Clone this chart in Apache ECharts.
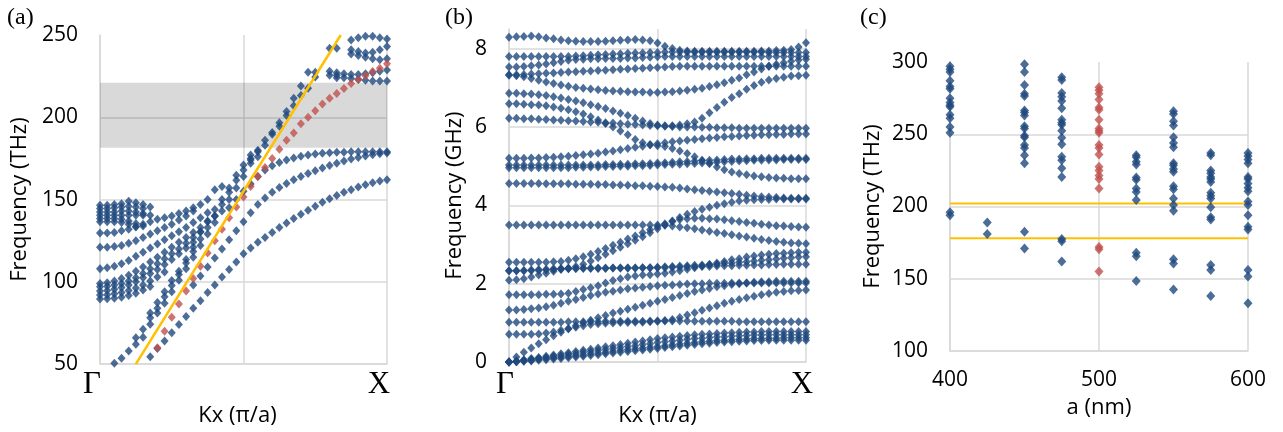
<!DOCTYPE html>
<html>
<head>
<meta charset="utf-8">
<script src="https://cdn.jsdelivr.net/npm/echarts@6/dist/echarts.min.js"></script>
<style>
html, body { margin: 0; padding: 0; background: #fff; }
#container { width: 1283px; height: 432px; }
</style>
</head>
<body>
<div id="container"></div>
<script>
// wave vector samples, Gamma -> X (pi/a)
var kx = [0,0.025,0.05,0.075,0.1,0.125,0.15,0.175,0.2,0.225,0.25,0.275,0.3,0.325,0.35,0.375,0.4,0.425,0.45,0.475,
	0.5,0.525,0.55,0.575,0.6,0.625,0.65,0.675,0.7,0.725,0.75,0.775,0.8,0.825,0.85,0.875,0.9,0.925,0.95,0.975,1];

// ---- (a) bands, THz. s = index of first visible kx sample
var aRed = {s: 8, f: [60,70,78.5,86.5,94.5,102,109.5,117.5,125,132,139,145.5,151.5,158,164,169.5,175,180.5,186,190.5,
	196,200,204,208,211.5,214.5,217.5,220.5,223,225.3,227.8,229.8,232.5]};
var aL1 = {s: 7, f: [54.5,59.5,64,69,74,79,84,88.5,93.5,98,103,107.5,112,117,120.5,124,127,130,133,135.8,138.5,141,143.5,146,
	148.3,150.5,152.5,154.4,156,157.6,159,160.2,161.2,162]};
var aL2 = {s: 13, f: [98,103.5,109,114.5,120,125.5,131,136.5,142,147,151,154.5,157.3,159.8,162,164,165.8,167.5,169.2,170.7,
	172.1,173.4,174.6,175.6,176.5,177.3,177.9,178.3]};
var aL3 = {s: 18, f: [145,150,155,159.5,164,168,170.5,172.5,174,175.3,176.3,177,177.7,178.2,178.5,178.7,178.8,179,179,179,179,179,179]};
var aLL1 = {s: 2, f: [50.5,53.5,58,62,66.3,74.2,81.1,87,94,101,108,115,122,129,136,143,150,157,164]};
var aLL2 = {s: 5, f: [66,71.2,78.1,84,90.9,97.8,104.5,111.5,118.5,126,133,140,147,154.5,161.8,168,174]};
var aLL3 = {s: 7, f: [81,87.5,94,100.8,106.5,113.5,121,130.3,137,144,150,157,164.7,171,177,180]};
var aU1 = {s: 21, f: [172,176,183,189.7,194.6,201.1,207,213.3,217.6,224.4]};
var aU2 = {s: 21, f: [175,179,186,190.8,196.6,203.5,211.5,219,227.3,227.3]};
var aD = {s: 32, f: [228,227,226.5,226,226,226.5,227,228,228.7]};
var aD2 = {s: 32, f: [225.5,225.5]};
var aE = {s: 33, f: [224,224,223.5,223,222.5,222,222,222]};
var aB1 = {s: 32, f: [242,242,null,241,240,239,239.5,241,243]};
var aB2 = {s: 35, f: [238.5,237.5,236.5,235.5,235,235.5]};
var aTop = {s: 35, f: [247,248.4,249.3,249.3,248.4,247.6]};
var aT1 = {s: 0, f: [146.5,146.5,147,147.5,149,148,147,145.5]};
var aT2 = {s: 0, f: [144.5,144.5,145,145.5,146,145.5,144.5]};
var aT3 = {s: 0, f: [142.5,142.5,142.5,143,143,142.5,141.5]};
var aT4 = {s: 0, f: [140.5,140.5,140.5,140.5,140.5,140.5,140.5,140.5]};
var aT5 = {s: 0, f: [138.5,138.5,138.5,138,137,135.5,134]};
var aT6 = {s: 0, f: [136.5,136.5,136.5,136,135,133.5]};
var aM1 = {s: 0, f: [129.7,129.7,130,131,132,133.5,135,136.5,138,139,140,141.5,143,145,147,150,156,158]};
var aM2 = {s: 0, f: [121,121,121.5,122,123.5,125,127,129,131,133,135,137.5,140,143]};
var aM3 = {s: 0, f: [108,108.5,109.5,111,113,115.5,118,120.5,123,125.5,128,130.5,133,136,139,142]};
var aM4 = {s: 0, f: [99,99.5,100.5,102,104,106.5,109,112,115,118,121,124,127,130,133,136.5,140]};
var aM5 = {s: 0, f: [97,97.3,98,99,100.5,102.5,105,108,111,114,117,120,123.5,127,130.5]};
var aM6 = {s: 0, f: [94.5,94.8,95.5,96.5,98,100,102.5,105,107.5,110.5,113.5,117,120.5,124]};
var aM7 = {s: 0, f: [92,92.2,92.7,93.5,94.7,96.2,98,100.5,103,106]};
var aM8 = {s: 0, f: [89.5,89.7,90,90.7,91.7,93,95,97.2]};
var aBlue = [aL1, aL2, aL3, aLL1, aLL2, aLL3, aU1, aU2, aD, aD2, aE, aB1, aB2, aTop,
	aT1, aT2, aT3, aT4, aT5, aT6, aM1, aM2, aM3, aM4, aM5, aM6, aM7, aM8];
var aLightLine = [[0.1247, 50], [0.839, 250]];
var aGapBand = [181.5, 221];

// ---- (b) bands, GHz, one value per kx sample
var b1 = [8.29,8.30,8.31,8.32,8.30,8.27,8.25,8.22,8.20,8.19,8.18,8.18,8.18,8.19,8.20,8.21,8.22,8.23,8.22,8.20,
	8.14,8.06,8.00,7.96,7.94,7.93,7.93,7.93,7.93,7.93,7.93,7.93,7.93,7.93,7.94,7.94,7.95,7.96,7.98,8.04,8.15];
var b2 = [7.80,7.80,7.80,7.80,7.80,7.80,7.80,7.80,7.80,7.81,7.82,7.83,7.84,7.85,7.86,7.87,7.88,7.89,7.89,7.90,
	7.90,7.91,7.91,7.91,7.91,7.91,7.91,7.91,7.91,7.91,7.91,7.91,7.91,7.91,7.91,7.90,7.90,7.90,7.90,7.90,7.90];
var b3 = [7.53,7.53,7.54,7.56,7.58,7.61,7.64,7.67,7.70,7.72,7.73,7.74,7.74,7.75,7.75,7.75,7.76,7.76,7.77,7.78,
	7.79,7.80,7.80,7.80,7.80,7.80,7.80,7.80,7.80,7.80,7.80,7.80,7.80,7.80,7.80,7.80,7.80,7.80,7.80,7.80,7.80];
var b4 = [7.33,7.33,7.34,7.35,7.36,7.37,7.38,7.39,7.40,7.41,7.42,7.43,7.44,7.45,7.46,7.47,7.48,7.49,7.50,7.51,
	7.52,7.53,7.54,7.55,7.55,7.55,7.55,7.55,7.55,7.55,7.55,7.55,7.55,7.55,7.55,7.55,7.55,7.55,7.55,7.55,7.55];
var b5 = [7.32,7.31,7.28,7.24,7.19,7.15,7.11,7.07,7.04,7.01,6.99,6.97,6.95,6.93,6.92,6.91,6.90,6.89,6.89,6.88,
	6.88,6.89,6.90,6.92,6.94,6.96,6.99,7.03,7.08,7.13,7.19,7.25,7.33,7.40,7.48,7.55,7.60,7.64,7.68,7.71,7.73];
var b6 = [6.86,6.86,6.85,6.84,6.82,6.80,6.77,6.74,6.70,6.66,6.62,6.57,6.52,6.47,6.41,6.35,6.29,6.22,6.15,6.09,
	6.05,6.03,6.03,6.05,6.08,6.13,6.22,6.36,6.50,6.63,6.75,6.85,6.96,7.06,7.14,7.20,7.24,7.27,7.30,7.31,7.32];
var b7 = [6.59,6.59,6.58,6.57,6.56,6.54,6.51,6.48,6.44,6.39,6.33,6.26,6.18,6.09,6.00,5.90,5.80,5.68,5.60,5.55,
	5.52,5.50,5.45,5.39,5.32,5.24,5.15,5.06,4.98,4.91,4.85,4.81,4.78,4.75,4.73,4.71,4.70,4.69,4.68,4.68,4.68];
var b8 = [6.22,6.22,6.21,6.21,6.20,6.19,6.18,6.17,6.16,6.15,6.14,6.13,6.12,6.11,6.10,6.08,6.07,6.06,6.05,6.04,
	6.03,6.02,6.01,6.00,6.00,6.00,5.99,5.99,5.98,5.98,5.98,5.97,5.97,5.97,5.97,5.97,5.97,5.97,5.97,5.97,5.97];
var b9 = [5.20,5.20,5.20,5.21,5.21,5.22,5.23,5.24,5.25,5.27,5.29,5.31,5.33,5.36,5.39,5.42,5.45,5.48,5.51,5.54,
	5.57,5.60,5.62,5.64,5.66,5.68,5.70,5.72,5.73,5.75,5.76,5.77,5.78,5.79,5.80,5.80,5.81,5.81,5.82,5.82,5.82];
var b10 = [5.03,5.03,5.03,5.03,5.03,5.03,5.03,5.03,5.03,5.03,5.03,5.03,5.03,5.04,5.04,5.05,5.05,5.06,5.06,5.07,
	5.08,5.09,5.10,5.11,5.12,5.13,5.14,5.15,5.16,5.17,5.18,5.18,5.19,5.19,5.20,5.20,5.20,5.20,5.20,5.20,5.20];
var b11 = [4.96,4.96,4.96,4.96,4.96,4.96,4.96,4.96,4.96,4.97,4.97,4.98,4.98,4.99,4.99,5.00,5.00,5.01,5.01,5.02,
	5.03,5.04,5.05,5.05,5.06,5.07,5.08,5.09,5.10,5.11,5.12,5.13,5.14,5.15,5.15,5.16,5.16,5.17,5.17,5.17,5.17];
var b12 = [4.56,4.56,4.56,4.56,4.56,4.55,4.55,4.55,4.55,4.54,4.54,4.54,4.53,4.53,4.52,4.52,4.51,4.50,4.50,4.49,
	4.48,4.47,4.46,4.44,4.42,4.40,4.38,4.36,4.34,4.32,4.30,4.28,4.26,4.24,4.22,4.21,4.20,4.19,4.18,4.18,4.18];
var b13 = [3.50,3.50,3.50,3.50,3.50,3.50,3.50,3.50,3.50,3.50,3.50,3.50,3.50,3.50,3.50,3.50,3.50,3.50,3.50,3.50,
	3.50,3.49,3.47,3.45,3.43,3.40,3.37,3.34,3.31,3.28,3.25,3.22,3.19,3.16,3.13,3.10,3.08,3.06,3.04,3.03,3.02];
var b14 = [2.55,2.55,2.55,2.55,2.55,2.55,2.56,2.57,2.60,2.64,2.69,2.75,2.82,2.90,2.98,3.06,3.14,3.22,3.30,3.38,
	3.46,3.53,3.59,3.64,3.66,3.67,3.67,3.66,3.65,3.63,3.61,3.59,3.56,3.54,3.52,3.50,3.48,3.47,3.46,3.45,3.44];
var b15 = [2.33,2.33,2.33,2.34,2.34,2.35,2.36,2.38,2.40,2.44,2.50,2.58,2.66,2.75,2.84,2.93,3.02,3.11,3.20,3.30,
	3.40,3.50,3.60,3.69,3.77,3.84,3.90,3.95,4.00,4.04,4.08,4.11,4.13,4.14,4.15,4.15,4.16,4.16,4.16,4.16,4.16];
var b16 = [2.33,2.33,2.34,2.35,2.36,2.37,2.38,2.39,2.39,2.39,2.39,2.39,2.39,2.39,2.40,2.40,2.40,2.40,2.41,2.41,
	2.42,2.43,2.44,2.45,2.46,2.47,2.48,2.49,2.50,2.52,2.53,2.55,2.56,2.58,2.60,2.61,2.63,2.65,2.66,2.68,2.69];
var b17 = [2.09,2.10,2.13,2.17,2.22,2.27,2.32,2.36,2.38,2.39,2.40,2.40,2.40,2.40,2.40,2.40,2.40,2.40,2.41,2.41,
	2.41,2.41,2.42,2.42,2.43,2.43,2.44,2.44,2.45,2.46,2.46,2.47,2.47,2.48,2.48,2.49,2.49,2.50,2.50,2.50,2.50];
var b18 = [1.72,1.72,1.72,1.72,1.72,1.73,1.73,1.74,1.76,1.80,1.85,1.90,1.95,2.02,2.08,2.13,2.17,2.20,2.22,2.23,
	2.25,2.27,2.30,2.33,2.37,2.41,2.45,2.49,2.53,2.57,2.61,2.64,2.68,2.71,2.73,2.75,2.77,2.78,2.79,2.80,2.80];
var b19 = [1.33,1.33,1.34,1.36,1.38,1.41,1.45,1.50,1.55,1.60,1.65,1.70,1.74,1.78,1.81,1.84,1.87,1.89,1.91,1.93,
	1.95,1.96,1.97,1.98,1.99,2.00,2.00,2.01,2.01,2.01,2.02,2.02,2.02,2.02,2.02,2.02,2.02,2.02,2.02,2.02,2.02];
var b20 = [1.02,1.02,1.02,1.02,1.02,1.02,1.02,1.02,1.03,1.03,1.03,1.03,1.03,1.04,1.04,1.04,1.04,1.04,1.04,1.05,
	1.05,1.05,1.05,1.05,1.05,1.04,1.04,1.04,1.04,1.04,1.04,1.03,1.03,1.03,1.03,1.03,1.03,1.03,1.03,1.03,1.03];
var b21 = [0.71,0.71,0.71,0.71,0.72,0.74,0.77,0.81,0.85,0.89,0.93,0.96,0.98,0.99,1.00,1.01,1.01,1.02,1.02,1.03,
	1.04,1.06,1.09,1.14,1.20,1.26,1.32,1.38,1.44,1.50,1.55,1.60,1.64,1.68,1.72,1.75,1.78,1.80,1.82,1.83,1.84];
var bSteep = [0.00,0.13,0.25,0.36,0.47,0.57,0.67,0.76,0.85,0.93,1.00,1.07,1.13,1.19,1.25,1.30,1.35,1.40,1.45,1.50,
	1.55,1.60,1.65,1.70,1.75,1.80,1.84,1.88,1.92,1.95,1.98,2.00,2.02,2.04,2.05,2.05,2.06,2.06,2.06,2.06,2.06];
var bA1 = [0.00,0.03,0.06,0.09,0.12,0.15,0.18,0.21,0.24,0.27,0.30,0.33,0.36,0.39,0.42,0.45,0.48,0.51,0.54,0.57,
	0.60,0.62,0.64,0.66,0.68,0.70,0.71,0.72,0.73,0.74,0.75,0.76,0.77,0.77,0.78,0.78,0.78,0.78,0.78,0.78,0.78];
var bA2 = [0.00,0.02,0.05,0.07,0.10,0.12,0.15,0.17,0.20,0.22,0.25,0.27,0.30,0.32,0.35,0.37,0.40,0.42,0.45,0.47,
	0.50,0.52,0.54,0.56,0.58,0.60,0.61,0.63,0.64,0.65,0.66,0.67,0.68,0.69,0.69,0.70,0.70,0.70,0.70,0.70,0.70];
var bA3 = [0.00,0.01,0.03,0.05,0.07,0.09,0.11,0.13,0.15,0.17,0.19,0.21,0.23,0.25,0.28,0.30,0.32,0.34,0.36,0.38,
	0.40,0.42,0.44,0.46,0.48,0.50,0.52,0.53,0.55,0.56,0.57,0.58,0.59,0.60,0.60,0.61,0.61,0.62,0.62,0.62,0.62];
var bA4 = [0.00,0.01,0.02,0.03,0.05,0.06,0.08,0.09,0.11,0.13,0.15,0.17,0.19,0.21,0.23,0.25,0.27,0.29,0.31,0.33,
	0.35,0.37,0.39,0.41,0.43,0.45,0.47,0.48,0.50,0.51,0.52,0.53,0.54,0.55,0.55,0.56,0.56,0.56,0.56,0.56,0.56];
var bBands = [b1, b2, b3, b4, b5, b6, b7, b8, b9, b10, b11, b12, b13, b14, b15, b16, b17, b18, b19, b20, b21,
	bSteep, bA1, bA2, bA3, bA4];

// ---- (c) modes vs lattice constant, THz
var cLattice = [400, 425, 450, 475, 525, 550, 575, 600];
var cModes = [
	[297,295,293,287,283,281.5,275,272,270,269,263.5,261,255,251,196,194],
	[189,181],
	[298.5,293,284,278,276.5,266.5,265,263,255.5,254,249,248,242.5,240.5,235.5,230,182.5,171],
	[289.5,287.5,278.5,276,273,268,260,258,256.5,252.5,247.5,243,234.5,232,226.5,220.5,177.5,176,162],
	[235.5,234,231,229,220,218.5,212.5,210,204.5,168,165.5,148.5],
	[266,264,259,256,248,244,241,230,228.5,226,224,214,212,205.5,201,197,163.5,160.5,142.5],
	[237,235.5,225,223,220.5,219,217,209.5,207.5,205.5,199.5,192.5,191,159.5,156,138],
	[237,235,232.5,230,220.5,219,216,213,210.5,203.5,201,194,186,184,156,151.5,133]
];
var cRedLattice = 500;
var cRedModes = [282.5,280.5,278,274,268.5,267,260,254,252.5,251,242.5,240.5,236,227.5,225,221.5,219,212.5,172,170.5,155];
var cGapEdges = [178, 202];

// ---- build point lists
function bandPoints(bands) {
	var out = [];
	bands.forEach(function (b) {
		b.f.forEach(function (v, i) {
			if (v != null) out.push([kx[b.s + i], v]);
		});
	});
	return out;
}
var aBluePts = bandPoints(aBlue);
var aRedPts = bandPoints([aRed]);
var bPts = [];
bBands.forEach(function (band) {
	band.forEach(function (v, i) { bPts.push([kx[i], v]); });
});
var cBluePts = [];
cLattice.forEach(function (a, j) {
	cModes[j].forEach(function (v) { cBluePts.push([a, v]); });
});
var cRedPts = cRedModes.map(function (v) { return [cRedLattice, v]; });

var BLUE = '#1F497D', RED = '#C0504D', GOLD = '#FFC000', GRID = '#d9d9d9';
var numFont = 'Open Sans', symFont = 'Liberation Serif';
var DOT = [8, 9], DOT_C = [9, 10];

function valueY(idx, min, max, interval, name, gap) {
	return {
		type: 'value', gridIndex: idx, min: min, max: max, interval: interval,
		axisLine: {show: true, lineStyle: {color: GRID, width: 1.5}},
		axisTick: {show: false},
		splitLine: {show: true, showMaxLine: false, lineStyle: {color: GRID, width: 1.5}},
		axisLabel: {fontFamily: numFont, fontSize: 21, color: '#000', margin: 22, showMaxLabel: max === 8.5 ? false : true},
		name: name, nameLocation: 'middle', nameGap: gap,
		nameTextStyle: {fontFamily: numFont, fontSize: 22, color: '#000'}
	};
}
function kAxis(idx, pad, margin, namePad) {
	return {
		type: 'value', gridIndex: idx, min: 0, max: 1, interval: 0.5,
		axisLine: {show: true, lineStyle: {color: GRID, width: 1.5}},
		axisTick: {show: false},
		splitLine: {show: true, lineStyle: {color: GRID, width: 1.5}},
		axisLabel: {
			fontFamily: symFont, fontSize: 31, color: '#000', margin: margin, padding: [0, pad, 0, 0],
			formatter: function (v) { return v === 0 ? 'Γ' : (v === 1 ? 'X' : ''); }
		},
		name: 'Kx (π/a)', nameLocation: 'middle', nameGap: 24,
		nameTextStyle: {fontFamily: numFont, fontSize: 22, color: '#000', padding: [0, namePad, 0, 0]}
	};
}

var option = {
	backgroundColor: '#fff',
	animation: false,
	title: [
		{text: '(a)', left: 2, top: 1, textStyle: {fontFamily: symFont, fontSize: 24, fontWeight: 'normal', color: '#000'}},
		{text: '(b)', left: 440, top: 1, textStyle: {fontFamily: symFont, fontSize: 24, fontWeight: 'normal', color: '#000'}},
		{text: '(c)', left: 855, top: 1, textStyle: {fontFamily: symFont, fontSize: 24, fontWeight: 'normal', color: '#000'}}
	],
	grid: [
		{left: 100, top: 35, width: 287, height: 338},
		{left: 509, top: 29, width: 297, height: 342},
		{left: 950, top: 62, width: 298, height: 289}
	],
	xAxis: [
		kAxis(0, 16, 5, 12),
		kAxis(1, 8, 7, 0),
		{
			type: 'value', gridIndex: 2, min: 400, max: 600, interval: 100,
			axisLine: {show: true, lineStyle: {color: GRID, width: 1.5}},
			axisTick: {show: false},
			splitLine: {show: true, lineStyle: {color: GRID, width: 1.5}},
			axisLabel: {fontFamily: numFont, fontSize: 21, color: '#000', margin: 19},
			name: 'a (nm)', nameLocation: 'middle', nameGap: 46,
			nameTextStyle: {fontFamily: numFont, fontSize: 22, color: '#000'}
		}
	],
	yAxis: [
		valueY(0, 50, 250, 50, 'Frequency (THz)', 69),
		valueY(1, 0, 8.5, 2, 'Frequency (GHz)', 43),
		valueY(2, 100, 300, 50, 'Frequency (THz)', 66)
	],
	series: [
		{
			type: 'line', xAxisIndex: 0, yAxisIndex: 0, data: [], z: 1, silent: true,
			markArea: {silent: true, itemStyle: {color: 'rgba(0,0,0,0.15)'},
				data: [[{yAxis: aGapBand[0]}, {yAxis: aGapBand[1]}]]}
		},
		{type: 'scatter', xAxisIndex: 0, yAxisIndex: 0, data: aBluePts, symbol: 'diamond', symbolSize: DOT,
			itemStyle: {color: BLUE}, z: 3},
		{type: 'scatter', xAxisIndex: 0, yAxisIndex: 0, data: aRedPts, symbol: 'diamond', symbolSize: DOT,
			itemStyle: {color: RED}, z: 4},
		{type: 'line', xAxisIndex: 0, yAxisIndex: 0, data: aLightLine, showSymbol: false, z: 5,
			lineStyle: {color: GOLD, width: 2.5}},
		{type: 'scatter', xAxisIndex: 1, yAxisIndex: 1, data: bPts, symbol: 'diamond', symbolSize: DOT,
			itemStyle: {color: BLUE}, z: 3},
		{type: 'line', xAxisIndex: 2, yAxisIndex: 2, data: [[400, cGapEdges[0]], [600, cGapEdges[0]]], showSymbol: false,
			z: 2, lineStyle: {color: GOLD, width: 2}},
		{type: 'line', xAxisIndex: 2, yAxisIndex: 2, data: [[400, cGapEdges[1]], [600, cGapEdges[1]]], showSymbol: false,
			z: 2, lineStyle: {color: GOLD, width: 2}},
		{type: 'scatter', xAxisIndex: 2, yAxisIndex: 2, data: cBluePts, symbol: 'diamond', symbolSize: DOT_C,
			itemStyle: {color: BLUE}, z: 3},
		{type: 'scatter', xAxisIndex: 2, yAxisIndex: 2, data: cRedPts, symbol: 'diamond', symbolSize: DOT_C,
			itemStyle: {color: RED}, z: 4}
	]
};

var myChart = echarts.init(document.getElementById('container'));
myChart.setOption(option);
</script>
</body>
</html>
